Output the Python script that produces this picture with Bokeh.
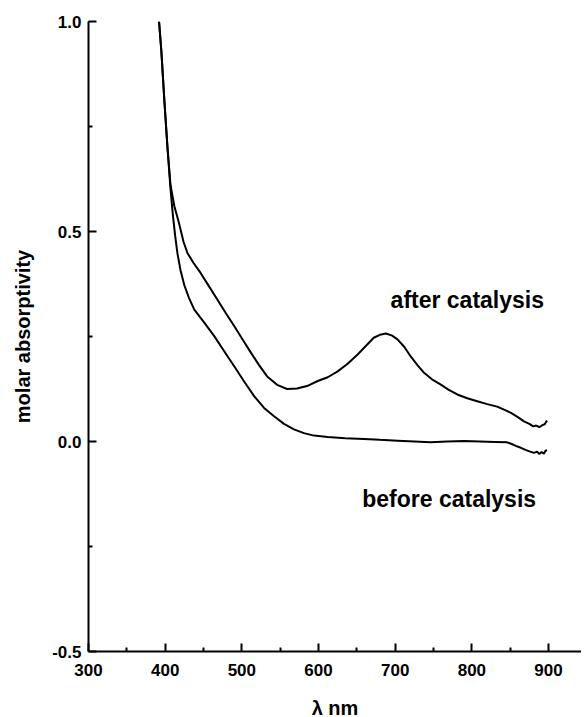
from bokeh.plotting import figure
from bokeh.models import FixedTicker, Range1d
from bokeh.core.properties import value
from bokeh.embed import file_html
from bokeh.resources import INLINE

# ---- data ----
after_wl = [392, 395, 399, 403, 407, 412, 418, 424, 429, 437, 446, 457, 468, 479, 490,
            501, 512, 522, 533, 546, 559, 572, 585, 599, 612, 625, 638, 651, 662, 672,
            680, 688, 696, 703, 712, 720, 729, 738, 748, 759, 770, 781, 794, 807, 820,
            833, 842, 851, 860, 868, 875, 880, 884, 888, 892, 895, 898]
after_abs = [1.0, 0.93, 0.81, 0.70, 0.61, 0.56, 0.52, 0.475, 0.449, 0.425, 0.402, 0.37,
             0.338, 0.306, 0.275, 0.243, 0.211, 0.183, 0.155, 0.135, 0.125, 0.126, 0.132,
             0.144, 0.153, 0.167, 0.185, 0.207, 0.228, 0.247, 0.254, 0.257, 0.252, 0.243,
             0.225, 0.203, 0.182, 0.163, 0.148, 0.136, 0.123, 0.112, 0.103, 0.096, 0.089,
             0.083, 0.076, 0.068, 0.058, 0.048, 0.042, 0.036, 0.038, 0.034, 0.039, 0.041, 0.050]

before_wl = [392, 395, 399, 403, 407, 410, 413, 416, 420, 425, 431, 438, 451, 464, 477,
             490, 503, 516, 529, 542, 555, 568, 581, 594, 612, 635, 659, 680, 703, 725,
             746, 768, 790, 810, 830, 846, 852, 858, 864, 870, 876, 881, 885, 888, 891,
             894, 896, 898]
before_abs = [1.0, 0.93, 0.81, 0.70, 0.60, 0.54, 0.49, 0.448, 0.408, 0.372, 0.342, 0.314,
              0.283, 0.251, 0.215, 0.179, 0.143, 0.108, 0.08, 0.06, 0.042, 0.029, 0.02,
              0.014, 0.011, 0.008, 0.006, 0.004, 0.002, 0.0, -0.002, 0.0, 0.001, 0.0,
              -0.001, -0.002, -0.006, -0.011, -0.015, -0.02, -0.024, -0.027, -0.024,
              -0.03, -0.025, -0.029, -0.022, -0.021]

x_ticks = [300, 400, 500, 600, 700, 800, 900]
x_minor = [350, 450, 550, 650, 750, 850]
y_ticks = [-0.5, 0.0, 0.5, 1.0]
y_tick_labels = ["-0.5", "0.0", "0.5", "1.0"]
y_minor = [-0.25, 0.25, 0.75]

labels = ["after catalysis", "before catalysis"]
label_x = [694, 657]
label_y = [0.338, -0.138]

FONT = "Liberation Sans"

p = figure(frame_width=493, frame_height=630, output_backend="svg", toolbar_location=None,
           x_range=Range1d(300, 943), y_range=Range1d(-0.5, 1.0),
           min_border_left=88, min_border_right=0, min_border_top=21, min_border_bottom=50)
p.outline_line_color = None
p.grid.visible = False
p.background_fill_color = "white"

p.line(after_wl, after_abs, line_color="black", line_width=2)
p.line(before_wl, before_abs, line_color="black", line_width=2)

p.text(x=label_x, y=label_y, text=labels, text_font=value(FONT), text_font_style="bold",
       text_font_size="23px", text_color="black", text_align="left",
       text_baseline="alphabetic")

for ax in (p.xaxis[0], p.yaxis[0]):
    ax.axis_line_width = 2
    ax.axis_line_color = "black"
    ax.major_tick_in = 8
    ax.major_tick_out = 0
    ax.minor_tick_in = 4
    ax.minor_tick_out = 0
    ax.major_tick_line_width = 2
    ax.minor_tick_line_width = 2
    ax.major_label_text_font = FONT
    ax.major_label_text_font_style = "bold"
    ax.major_label_text_font_size = "17px"
    ax.major_label_text_color = "black"
    ax.axis_label_text_font = FONT
    ax.axis_label_text_font_style = "bold"
    ax.axis_label_text_font_size = "20px"
    ax.axis_label_text_color = "black"

p.xaxis[0].major_label_standoff = 12
p.yaxis[0].major_label_standoff = 7
p.xaxis[0].ticker = FixedTicker(ticks=x_ticks, minor_ticks=x_minor)
p.yaxis[0].ticker = FixedTicker(ticks=y_ticks, minor_ticks=y_minor)
p.yaxis[0].major_label_overrides = {t: l for t, l in zip(y_ticks, y_tick_labels)}
p.xaxis[0].axis_label = "λ nm"
p.yaxis[0].axis_label = "molar absorptivity"
p.xaxis[0].axis_label_standoff = 18
p.yaxis[0].axis_label_standoff = 15

open("out.html", "w").write(file_html(p, INLINE))
